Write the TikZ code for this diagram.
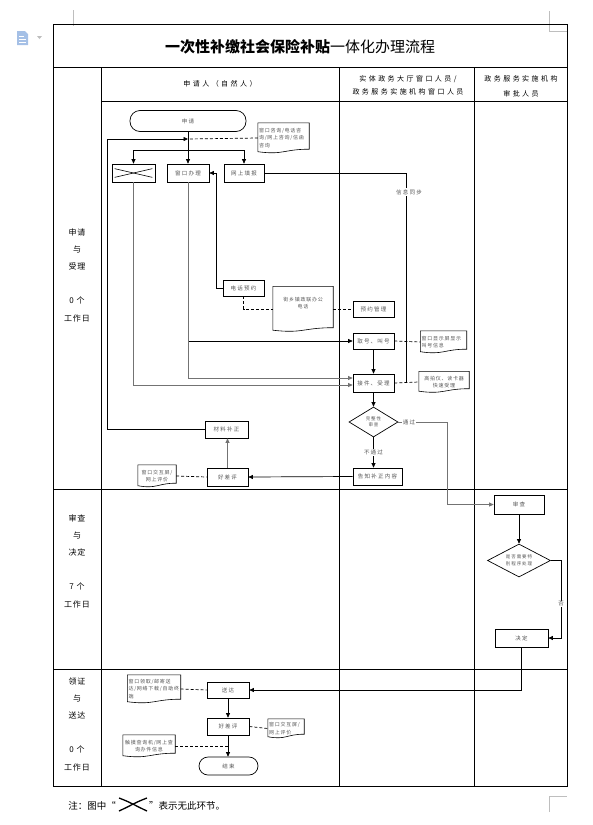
\documentclass[tikz,border=0pt]{standalone}
\usepackage{fontspec}
\setmainfont{Noto Sans CJK SC}
\newfontfamily\nsp{Noto Sans CJK SC}[LetterSpace=22]
\newfontfamily\dsp{Noto Sans CJK SC}[LetterSpace=15]
\newfontfamily\hsp{Noto Sans CJK SC}[LetterSpace=35]
\newfontfamily\lsp{Noto Sans CJK SC}[LetterSpace=12]
\usetikzlibrary{arrows.meta,shapes.geometric}
\definecolor{txt}{RGB}{85,85,85}
\definecolor{gl}{RGB}{115,115,115}
\definecolor{iconc}{RGB}{165,192,230}
\definecolor{markc}{RGB}{190,190,190}
\tikzset{
  box/.style={draw, line width=0.7pt, inner sep=0pt, font=\fontsize{5.5}{7}\selectfont\nsp, text=txt, align=center},
  doc/.style={inner sep=1pt, font=\fontsize{5}{7.5}\selectfont\dsp, text=txt, align=left},
  arr/.style={line width=0.7pt, -{Triangle[length=4.5pt,width=4pt]}},
  conn/.style={line width=0.7pt},
  dsh/.style={line width=0.7pt, dash pattern=on 3pt off 2pt},
  gridln/.style={line width=0.8pt},
  lab/.style={font=\fontsize{5.5}{7}\selectfont\nsp, text=txt, fill=white, inner sep=1pt},
  phase/.style={font=\fontsize{8}{17}\selectfont\lsp, align=center, inner sep=0pt},
  hdr/.style={font=\fontsize{7}{13}\selectfont\hsp, align=center, inner sep=0pt},
}
\begin{document}
\begin{tikzpicture}[x=1pt,y=-1pt]
\useasboundingbox (0,0) rectangle (593,825);
% page artefacts
\fill[iconc] (17,31) -- (25,31) -- (28,34) -- (28,45) -- (17,45) -- cycle;
\draw[white, line width=0.8pt] (19,36) -- (24,36) (19,39) -- (26,39) (19,42) -- (26,42);
\fill[markc] (37,36) -- (42,36) -- (39.5,39) -- cycle;
\draw[markc, line width=0.6pt] (73,10) -- (73,26);
\draw[markc, line width=0.6pt] (549,11) -- (549,31) -- (567,31);
\draw[markc, line width=0.6pt] (549,812) -- (549,796) -- (567,796);
% table
\draw[gridln] (53,24) rectangle (567,786);
\draw[gridln] (53,67) -- (567,67);
\draw[gridln] (101,101) -- (567,101);
\draw[gridln] (101,67) -- (101,786);
\draw[gridln] (339.5,67) -- (339.5,786);
\draw[gridln] (474.5,67) -- (474.5,786);
\draw[gridln] (53,489) -- (567,489);
\draw[gridln] (53,669) -- (567,669);
% title and headers
\node[font=\fontsize{15}{18}\selectfont, inner sep=0pt] (title) at (300,47) {\textbf{一次性补缴社会保险补贴}一体化办理流程};
\node[hdr] (h1) at (220,84) {申请人（自然人）};
\node[hdr] (h2) at (408,85) {实体政务大厅窗口人员/\\政务服务实施机构窗口人员};
\node[hdr, font=\fontsize{7}{15}\selectfont\hsp] (h3) at (521,86) {政务服务实施机构\\审批人员};
% phase labels
\node[phase] (p1a) at (77,249) {申请\\与\\受理};
\node[phase, font=\fontsize{8}{18}\selectfont\lsp] (p1b) at (77,309) {0 个\\工作日};
\node[phase] (p2a) at (77,535) {审查\\与\\决定};
\node[phase, font=\fontsize{8}{18}\selectfont\lsp] (p2b) at (77,595) {7 个\\工作日};
\node[phase] (p3a) at (77,698) {领证\\与\\送达};
\node[phase, font=\fontsize{8}{18}\selectfont\lsp] (p3b) at (77,758) {0 个\\工作日};
% nodes: application and acceptance
\node[box, rounded corners=10pt, minimum width=116pt, minimum height=21pt] (apply) at (188,121) {申请};
\node[doc, text width=49pt, minimum height=30pt] (consult) at (283.5,138) {窗口咨询/电话咨\\询/网上咨询/信函\\咨询};
\node[box, minimum width=43pt, minimum height=18pt] (xbox) at (133.5,173) {};
\node[box, minimum width=42pt, minimum height=18pt] (window) at (188,173) {窗口办理};
\node[box, minimum width=40pt, minimum height=18pt] (online) at (244,173) {网上填报};
\node[box, minimum width=41pt, minimum height=16pt] (phone) at (243.5,288) {电话预约};
\node[doc, minimum width=60pt, minimum height=45pt] (phonedoc) at (303,309) {};
\node[doc, align=center] (phonetext) at (303,303) {街乡镇政联办公\\电话};
\node[box, minimum width=41pt, minimum height=16pt] (appt) at (373.5,309) {预约管理};
\node[box, minimum width=41pt, minimum height=16pt] (callno) at (373.5,341) {取号、叫号};
\node[doc, text width=44pt, minimum height=22pt] (callnodoc) at (443.5,342) {窗口显示屏显示\\叫号信息};
\node[box, minimum width=41pt, minimum height=18pt] (accept) at (373.5,383) {接件、受理};
\node[doc, text width=48pt, minimum height=21pt, align=center] (acceptdoc) at (444,382) {高拍仪、读卡器\\快速受理};
\node[box, diamond, aspect=1.63, minimum width=49pt, minimum height=30pt, font=\fontsize{4.5}{6.5}\selectfont\nsp] (check) at (373.5,422) {完整性\\审查};
\node[box, minimum width=49pt, minimum height=17pt] (inform) at (377.5,476.5) {告知补正内容};
\node[box, minimum width=43pt, minimum height=17pt] (suppl) at (226.5,429.5) {材料补正};
\node[box, minimum width=41pt, minimum height=18pt] (rate1) at (227.5,477) {好差评};
\node[doc, text width=36pt, minimum height=22pt, align=center] (rate1doc) at (157,476) {窗口交互屏/\\网上评价};
% review and decision
\node[box, minimum width=50pt, minimum height=19pt] (review) at (519,504.5) {审查};
\node[box, diamond, aspect=1.9, minimum width=63pt, minimum height=33pt, font=\fontsize{4.5}{6.5}\selectfont\nsp] (special) at (519,560.5) {是否需要特\\别程序处理};
\node[box, minimum width=53pt, minimum height=18pt] (decide) at (521.5,638) {决定};
% delivery
\node[box, minimum width=42pt, minimum height=16pt] (deliver) at (228,690) {送达};
\node[doc, text width=51pt, minimum height=28pt, font=\fontsize{5}{7.5}\selectfont\nsp] (deliverdoc) at (154,689) {\dsp 窗口领取/邮寄送\\达/网络下载/自助终\\端};
\node[box, minimum width=42pt, minimum height=17pt] (rate2) at (228,726.5) {好差评};
\node[doc, text width=34pt, minimum height=19pt] (rate2doc) at (286,728.5) {窗口交互屏/\\网上评价};
\node[doc, text width=50pt, minimum height=22pt, align=center] (querydoc) at (149,746) {触摸查询机/网上查\\询办件信息};
\node[box, rounded corners=9pt, minimum width=59pt, minimum height=18pt] (end) at (228.5,766) {结束};
% document outlines
\foreach \d in {consult,phonedoc,callnodoc,acceptdoc,rate1doc,deliverdoc,rate2doc,querydoc}
  \draw[line width=0.6pt] (\d.north west) -- (\d.north east) -- ([yshift=4pt]\d.south east)
     .. controls ([yshift=4pt]\d.south) and ([yshift=-2pt]\d.south) .. ([yshift=1.5pt]\d.south west) -- cycle;
% cross in the "no such step" box
\draw[line width=0.6pt] ([xshift=3pt,yshift=-5pt]xbox.north west) -- ([xshift=-3pt,yshift=5pt]xbox.south east);
\draw[line width=0.6pt] ([xshift=3pt,yshift=5pt]xbox.south west) -- ([xshift=-3pt,yshift=-5pt]xbox.north east);
% connectors
\coordinate (br) at (188,150);
\coordinate (fbl) at (107,139);
\coordinate (fbe) at (188,139);
\draw[arr] (apply) -- (window);
\draw[conn] (xbox.north |- br) -- (online.north |- br);
\draw[arr] (xbox.north |- br) -- (xbox.north);
\draw[arr] (online.north |- br) -- (online.north);
\draw[arr] (suppl.west) -| (fbl) -- (fbe);
\draw[dsh] (consult.west) -- (fbe);
\coordinate (syncend) at (406,383);
\draw[conn] (online.east) -| (syncend);
\node[lab] (synclab) at (409,192) {信息同步};
\draw[arr] (phone.west) -- ++(-6,0) |- (window.east);
\draw[dsh] (phone.south) |- (phonedoc.west);
\draw[dsh] (phonedoc.east) -- (appt.west);
\draw[arr] (window.south) |- (callno.west);
\draw[arr, gl, line width=0.9pt] (window.south) |- ([yshift=5pt]accept.west);
\draw[arr, gl, line width=0.9pt] (xbox.south) |- ([yshift=-2pt]accept.west);
\draw[arr] (callno) -- (accept);
\draw[dsh] (callno.east) -- (callnodoc.west);
\draw[dsh] (accept.east) -- (acceptdoc.west);
\draw[arr] (accept) -- (check);
\draw[arr] (check.south) -- node[lab] (faillab) {不通过} (check.south |- inform.north);
\draw[arr] (inform.west) -- (rate1.east);
\draw[arr, gl, line width=0.9pt] (rate1.north) -- (rate1.north |- suppl.south);
\draw[dsh] (rate1doc.east) -- (rate1.west);
\coordinate (pc) at (447,422);
\draw[arr, gl, line width=0.9pt] (check.east) -- (pc) |- (review.west);
\node[lab] (passlab) at (409,422) {通过};
\draw[arr] (review) -- (special);
\coordinate (nc) at (561,560.5);
\draw[arr] (special.east) -- (nc) |- (decide.east);
\node[lab] (nolab) at (561,604) {否};
\draw[arr] (decide.south) |- (deliver.east);
\draw[dsh] (deliverdoc.east) -- (deliver.west);
\draw[arr] (deliver) -- (rate2);
\draw[dsh] (rate2.east) -- (rate2doc.west);
\draw[arr] (rate2.south) -- (rate2.south |- end.north);
\draw[dsh] (querydoc.east) -- (rate2.south |- querydoc.east);
% note
\node[font=\fontsize{9.5}{11}\selectfont, anchor=east, inner sep=0pt] (note1) at (116,806) {注：图中“};
\draw[line width=1.3pt] (119,798) .. controls (130,802) and (136,806) .. (147,811);
\draw[line width=1.3pt] (119,811) .. controls (130,806) and (136,802) .. (147,798);
\node[font=\fontsize{9.5}{11}\selectfont, anchor=west, inner sep=0pt] (note2) at (149,806) {”表示无此环节。};
\end{tikzpicture}
\end{document}
